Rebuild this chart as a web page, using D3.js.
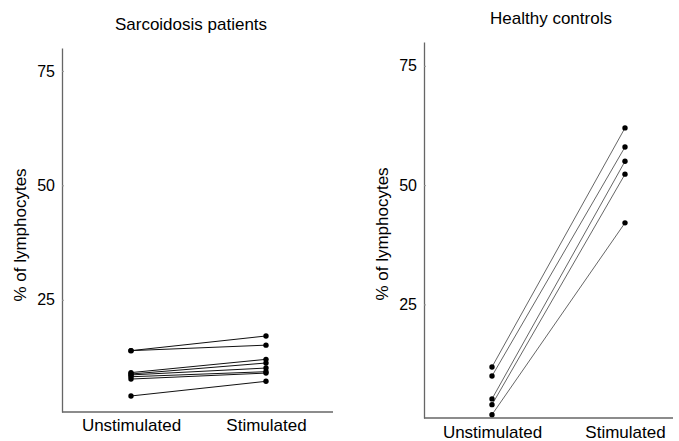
<!DOCTYPE html>
<html>
<head>
<meta charset="utf-8">
<script src="https://cdn.jsdelivr.net/npm/d3@7"></script>
<style>
  body { margin:0; background:#fff; }
  text { font-family: "Liberation Sans", Arial, sans-serif; fill:#000; }
</style>
</head>
<body>
<div class="svgWrap"></div>
<script>
// data
var groups = ["Unstimulated", "Stimulated"];
var yTicks = [25, 50, 75];
var sarcUnstim = [13.9, 13.9, 9.1, 8.8, 8.6, 8.2, 7.7, 4.0];
var sarcStim   = [17.1, 15.1, 12.0, 11.2, 10.1, 9.3, 9.0, 7.2];
var ctrlUnstim = [11.9, 10.0, 5.2, 4.0, 1.9];
var ctrlStim   = [62.0, 58.0, 55.0, 52.3, 42.1];

var svg = d3.select(".svgWrap")
  .append("svg")
  .attr("width", 679)
  .attr("height", 441);

function drawPanel(p){
  var x = d3.scalePoint().domain(groups).range([p.x0, p.x1]);
  var y = d3.scaleLinear().domain(p.ydom).range([p.bottom, p.top]);

  var g = svg.append("g");

  // y axis
  var ya = g.append("g")
    .attr("transform", "translate(" + p.left + ",0)")
    .call(d3.axisLeft(y).tickValues(yTicks).tickSizeInner(-2).tickSizeOuter(0).tickPadding(7));
  ya.select(".domain").attr("stroke", "#666").attr("stroke-width", 1.3);
  ya.selectAll(".tick line").attr("stroke", "#999");
  ya.selectAll(".tick text").style("font-size", "16px").attr("fill", "#000");

  // x axis
  var xa = g.append("g")
    .attr("transform", "translate(0," + p.bottom + ")")
    .call(d3.axisBottom(x).tickSize(0).tickPadding(p.xpad));
  xa.select(".domain").attr("d", "M" + p.left + ",0H" + p.right)
    .attr("stroke", "#666").attr("stroke-width", 1.3);
  xa.selectAll(".tick text").style("font-size", "17px").attr("fill", "#000");

  // paired lines
  var pairs = p.a.map(function(v, i){ return [v, p.b[i]]; });
  g.selectAll(".pair")
    .data(pairs)
    .enter()
    .append("line")
    .attr("x1", x(groups[0]))
    .attr("x2", x(groups[1]))
    .attr("y1", function(d){ return y(d[0]); })
    .attr("y2", function(d){ return y(d[1]); })
    .attr("stroke", p.lineColor)
    .attr("stroke-width", p.lineWidth);

  // points
  [p.a, p.b].forEach(function(vals, k){
    g.selectAll(".pt" + k)
      .data(vals)
      .enter()
      .append("circle")
      .attr("cx", x(groups[k]))
      .attr("cy", function(d){ return y(d); })
      .attr("r", 2.7)
      .attr("fill", "#000");
  });

  // title
  g.append("text")
    .attr("x", p.titleX)
    .attr("y", p.titleY)
    .attr("text-anchor", "middle")
    .style("font-size", "17px")
    .text(p.title);

  // y label
  g.append("text")
    .attr("transform", "translate(" + p.labX + "," + p.labY + ") rotate(-90)")
    .attr("text-anchor", "middle")
    .style("font-size", "17px")
    .text("% of lymphocytes");
}

drawPanel({
  title: "Sarcoidosis patients", titleX: 191, titleY: 30,
  a: sarcUnstim, b: sarcStim,
  left: 62, right: 333, top: 48, bottom: 412, ydom: [0.5, 80],
  x0: 131, x1: 266, xpad: 7,
  labX: 26, labY: 235,
  lineColor: "#111", lineWidth: 1
});

drawPanel({
  title: "Healthy controls", titleX: 551, titleY: 24,
  a: ctrlUnstim, b: ctrlStim,
  left: 424, right: 673, top: 42, bottom: 418, ydom: [1.2, 80],
  x0: 492, x1: 625, xpad: 8,
  labX: 388, labY: 234,
  lineColor: "#555", lineWidth: 0.9
});
</script>
</body>
</html>
